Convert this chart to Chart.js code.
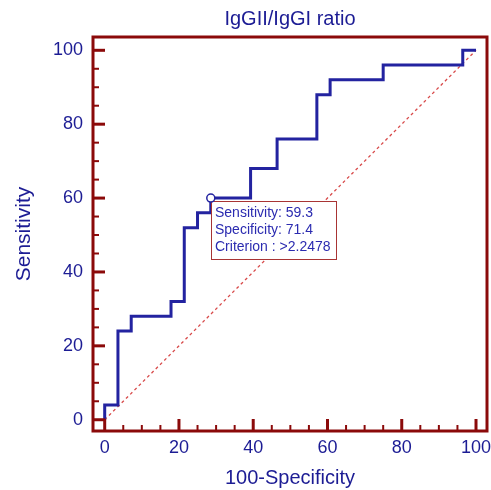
<!DOCTYPE html>
<html>
<head>
<meta charset="utf-8">
<script src="https://cdn.jsdelivr.net/npm/chart.js@4/dist/chart.umd.min.js"></script>
<style>
  html, body { margin: 0; padding: 0; background: #ffffff; }
  #wrap { width: 491px; height: 490px; }
</style>
</head>
<body>
<div id="wrap"><canvas id="c" width="491" height="490"></canvas></div>
<script>
// ---- data ----
const chartTitle = 'IgGII/IgGI ratio';
const xTitle = '100-Specificity';
const yTitle = 'Sensitivity';
// ROC operating points (100-Specificity, Sensitivity)
const rocFpr  = [0, 3.57, 7.14, 17.86, 21.43, 25, 28.57, 39.29, 46.43, 57.14, 60.71, 75, 96.43, 100];
const rocSens = [0, 4, 24, 28, 32, 52, 56, 60, 68, 76, 88, 92, 96, 100];
// reference diagonal
const diagX = [0, 100];
const diagY = [0, 100];
// optimal criterion point
const critX = [28.57];
const critY = [60];
const critText = ['Sensitivity: 59.3', 'Specificity: 71.4', 'Criterion : >2.2478'];
// tick labels
const xTicks = [0, 20, 40, 60, 80, 100];
const yTicks = [0, 20, 40, 60, 80, 100];
const minorStep = 5;

// ---- styles ----
const FONT = 'Arial, "Liberation Sans", sans-serif';
const TEXT_BLUE = '#1c1c94';
const LINE_BLUE = '#2323a0';
const FRAME_RED = '#8b0a0a';

// step (vertical first, then horizontal) corners built from ROC points
const rocPts = [{x: rocFpr[0], y: rocSens[0]}];
for (let i = 1; i < rocFpr.length; i++) {
  rocPts.push({x: rocFpr[i - 1], y: rocSens[i]});
  rocPts.push({x: rocFpr[i], y: rocSens[i]});
}

const framePlugin = {
  id: 'framePlugin',
  afterDatasetsDraw(chart) {
    const ctx = chart.ctx;
    const a = chart.chartArea;
    const xs = chart.scales.x, ys = chart.scales.y;
    ctx.save();
    // annotation box anchored at criterion point
    const px = xs.getPixelForValue(critX[0]);
    const py = ys.getPixelForValue(critY[0]);
    const bx = Math.round(px) + 0.5, by = Math.round(py + 4) - 0.5;
    const bw = 125, bh = 58;
    ctx.fillStyle = '#ffffff';
    ctx.fillRect(bx, by, bw, bh);
    ctx.strokeStyle = '#a83434';
    ctx.lineWidth = 1;
    ctx.strokeRect(bx, by, bw, bh);
    ctx.fillStyle = '#2b2bb0';
    ctx.font = '14px ' + FONT;
    ctx.textBaseline = 'middle';
    ctx.textAlign = 'left';
    critText.forEach((t, i) => ctx.fillText(t, bx + 3.5, by + 11.5 + i * 17));
    // criterion circle on top of the box edge
    ctx.beginPath();
    ctx.arc(px, py, 4, 0, Math.PI * 2);
    ctx.fillStyle = '#ffffff';
    ctx.fill();
    ctx.lineWidth = 1.5;
    ctx.strokeStyle = LINE_BLUE;
    ctx.stroke();

    // ticks inside frame
    ctx.strokeStyle = FRAME_RED;
    for (let v = 0; v <= 100; v += minorStep) {
      const major = v % 20 === 0;
      const len = major ? 12 : 6;
      ctx.lineWidth = major ? 3 : 2;
      const yy = ys.getPixelForValue(v);
      ctx.beginPath();
      ctx.moveTo(a.left, yy);
      ctx.lineTo(a.left + len, yy);
      ctx.stroke();
      const xx = xs.getPixelForValue(v);
      ctx.beginPath();
      ctx.moveTo(xx, a.bottom);
      ctx.lineTo(xx, a.bottom - len);
      ctx.stroke();
    }
    // frame
    ctx.lineWidth = 3;
    ctx.strokeRect(a.left, a.top, a.right - a.left, a.bottom - a.top);
    ctx.restore();
  }
};

new Chart(document.getElementById('c'), {
  type: 'scatter',
  data: {
    datasets: [
      {
        label: 'ROC',
        data: rocPts,
        showLine: true,
        borderColor: LINE_BLUE,
        borderWidth: 3,
        pointRadius: 0,
        fill: false,
        tension: 0
      },
      {
        label: 'Diagonal',
        data: diagX.map((x, i) => ({x, y: diagY[i]})),
        showLine: true,
        borderColor: '#d84a4a',
        borderWidth: 1.3,
        borderDash: [3, 3],
        pointRadius: 0,
        fill: false
      }
    ]
  },
  options: {
    responsive: false,
    animation: false,
    events: [],
    layout: { padding: { left: 0, right: 4, top: 0, bottom: 0 } },
    plugins: {
      legend: { display: false },
      tooltip: { enabled: false },
      title: {
        display: true,
        fullSize: false,
        text: chartTitle,
        color: TEXT_BLUE,
        font: { family: FONT, size: 20, weight: 'normal' },
        padding: { top: 7, bottom: 6 }
      }
    },
    scales: {
      x: {
        type: 'linear',
        min: -3.15,
        max: 102.96,
        grid: { display: false, drawTicks: false },
        border: { display: false },
        afterBuildTicks: (s) => { s.ticks = xTicks.map(v => ({value: v})); },
        afterFit: (s) => { s.height = 59; s.paddingLeft = 0; s.paddingRight = 0; },
        ticks: {
          color: TEXT_BLUE,
          font: { family: FONT, size: 18 },
          padding: 6,
          maxRotation: 0,
          autoSkip: false
        },
        title: {
          display: true,
          text: xTitle,
          color: TEXT_BLUE,
          font: { family: FONT, size: 20 },
          padding: { top: 0, bottom: 0 }
        }
      },
      y: {
        type: 'linear',
        min: -3.05,
        max: 103.6,
        grid: { display: false, drawTicks: false },
        border: { display: false },
        afterBuildTicks: (s) => { s.ticks = yTicks.map(v => ({value: v})); },
        afterFit: (s) => { s.width = 93; s.paddingTop = 0; s.paddingBottom = 0; },
        ticks: {
          color: TEXT_BLUE,
          font: { family: FONT, size: 18 },
          padding: 10,
          autoSkip: false
        },
        title: {
          display: true,
          text: yTitle,
          color: TEXT_BLUE,
          font: { family: FONT, size: 21 },
          padding: { top: 12, bottom: 0 }
        }
      }
    }
  },
  plugins: [framePlugin]
});
</script>
</body>
</html>
